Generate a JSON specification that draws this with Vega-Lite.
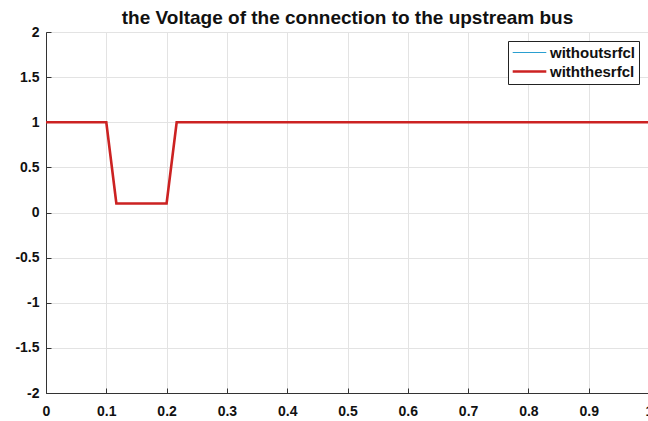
{
  "$schema": "https://vega.github.io/schema/vega-lite/v6.json",
  "width": 603,
  "height": 361,
  "autosize": "none",
  "padding": {"left": 46, "top": 32, "right": 0, "bottom": 28},
  "background": "white",
  "title": {
    "text": "the Voltage of the connection to the upstream bus",
    "font": "Liberation Sans",
    "fontSize": 19,
    "fontWeight": "bold",
    "color": "#111",
    "anchor": "middle",
    "offset": -3
  },
  "data": {
    "values": [
      {"t": 0, "v": 1, "s": "withoutsrfcl"},
      {"t": 0.1, "v": 1, "s": "withoutsrfcl"},
      {"t": 0.1167, "v": 0.1, "s": "withoutsrfcl"},
      {"t": 0.2, "v": 0.1, "s": "withoutsrfcl"},
      {"t": 0.2167, "v": 1, "s": "withoutsrfcl"},
      {"t": 1, "v": 1, "s": "withoutsrfcl"},
      {"t": 0, "v": 1, "s": "withthesrfcl"},
      {"t": 0.1, "v": 1, "s": "withthesrfcl"},
      {"t": 0.1167, "v": 0.1, "s": "withthesrfcl"},
      {"t": 0.2, "v": 0.1, "s": "withthesrfcl"},
      {"t": 0.2167, "v": 1, "s": "withthesrfcl"},
      {"t": 1, "v": 1, "s": "withthesrfcl"}
    ]
  },
  "mark": {"type": "line", "clip": true},
  "encoding": {
    "x": {
      "field": "t", "type": "quantitative",
      "scale": {"domain": [0, 1], "nice": false},
      "axis": {"values": [0, 0.1, 0.2, 0.3, 0.4, 0.5, 0.6, 0.7, 0.8, 0.9, 1], "format": "~g", "title": null, "labelPadding": 16, "labelFlush": false}
    },
    "y": {
      "field": "v", "type": "quantitative",
      "scale": {"domain": [-2, 2], "nice": false},
      "axis": {"values": [-2, -1.5, -1, -0.5, 0, 0.5, 1, 1.5, 2], "format": "~g", "title": null, "labelPadding": 12, "labelExpr": "replace(datum.label, '\u2212', '-')"}
    },
    "color": {
      "field": "s", "type": "nominal",
      "scale": {"domain": ["withoutsrfcl", "withthesrfcl"], "range": ["#2a9fd0", "#cc2222"]},
      "legend": {
        "title": null,
        "orient": "none",
        "legendX": 462,
        "legendY": 9,
        "strokeColor": "#222",
        "fillColor": "white",
        "padding": 4,
        "symbolType": "M-2.8,0H2.8",
        "symbolSize": 144,
        "symbolOffset": 10,
        "labelFont": "Liberation Sans",
        "labelFontSize": 15,
        "labelFontWeight": "bold",
        "labelColor": "#111",
        "rowPadding": 3,
        "labelOffset": 13
      }
    },
    "strokeWidth": {
      "field": "s", "type": "nominal",
      "scale": {"domain": ["withoutsrfcl", "withthesrfcl"], "range": [1, 2.6]},
      "legend": null
    }
  },
  "config": {
    "view": {"stroke": "#333", "strokeWidth": 1},
    "axis": {
      "labelFont": "Liberation Sans",
      "labelFontSize": 14,
      "labelFontWeight": "bold",
      "labelColor": "#111",
      "domainColor": "#333",
      "gridColor": "#e3e3e3",
      "gridOpacity": 1,
      "ticks": true,
      "tickSize": -5,
      "tickColor": "#333"
    }
  }
}
